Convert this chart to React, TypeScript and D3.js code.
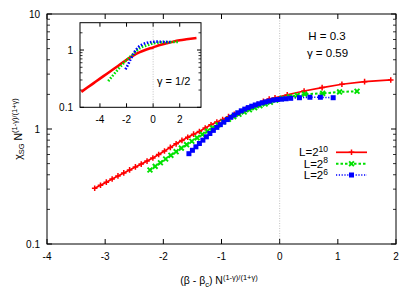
import * as d3 from "d3";

// main panel, L = 2^10
const redX = [-3.18, -3.08, -2.98, -2.88, -2.78, -2.68, -2.58, -2.48, -2.38, -2.28, -2.18, -2.08, -1.98, -1.88, -1.78, -1.68, -1.58, -1.48, -1.38, -1.28, -1.18, -1.08, -0.98, -0.88, -0.78, -0.68, -0.58, -0.48, -0.38, -0.28, -0.18, -0.08, 0.13, 0.42, 0.73, 1.07, 1.46, 1.91];
const redY = [0.305, 0.324, 0.345, 0.367, 0.391, 0.415, 0.441, 0.468, 0.495, 0.526, 0.56, 0.6, 0.644, 0.692, 0.743, 0.796, 0.847, 0.902, 0.951, 1.02, 1.09, 1.15, 1.21, 1.28, 1.34, 1.41, 1.48, 1.56, 1.64, 1.74, 1.82, 1.87, 1.98, 2.14, 2.29, 2.45, 2.58, 2.67];

// L = 2^8
const greenX = [-2.23, -2.14, -2.05, -1.96, -1.87, -1.78, -1.69, -1.6, -1.51, -1.42, -1.33, -1.24, -1.15, -1.06, -0.97, -0.88, -0.79, -0.7, -0.61, -0.52, -0.43, -0.34, -0.25, -0.16, -0.07, 0.04, 0.17, 0.3, 0.43, 0.74, 1.03, 1.33];
const greenY = [0.44, 0.473, 0.509, 0.548, 0.59, 0.635, 0.682, 0.731, 0.783, 0.838, 0.897, 0.959, 1.023, 1.086, 1.151, 1.216, 1.279, 1.343, 1.406, 1.469, 1.531, 1.592, 1.652, 1.71, 1.778, 1.845, 1.905, 1.963, 2.01, 2.04, 2.1, 2.13];

// L = 2^6
const blueX = [-1.56, -1.5, -1.44, -1.38, -1.32, -1.26, -1.2, -1.14, -1.08, -1.02, -0.96, -0.9, -0.84, -0.78, -0.72, -0.66, -0.6, -0.54, -0.48, -0.42, -0.36, -0.3, -0.24, -0.18, -0.11, -0.04, 0.03, 0.11, 0.19, 0.34, 0.52, 0.7, 0.92];
const blueY = [0.61, 0.653, 0.7, 0.748, 0.8, 0.855, 0.914, 0.973, 1.033, 1.091, 1.148, 1.208, 1.265, 1.324, 1.384, 1.439, 1.489, 1.535, 1.578, 1.618, 1.656, 1.69, 1.722, 1.75, 1.786, 1.803, 1.816, 1.832, 1.849, 1.871, 1.888, 1.888, 1.871];

// inset, gamma = 1/2
const insetRedX = [-5.4, -5.0, -4.5, -4.0, -3.5, -3.0, -2.5, -1.95, -1.5, -1.0, -0.5, 0, 0.5, 1.0, 1.5, 2.0, 2.5, 3.26];
const insetRedY = [0.186, 0.217, 0.262, 0.316, 0.382, 0.461, 0.557, 0.686, 0.8, 0.92, 1.02, 1.11, 1.22, 1.31, 1.4, 1.48, 1.54, 1.62];
const insetGreenX = [-3.38, -3.0, -2.5, -2.0, -1.5, -1.0, -0.5, 0, 0.5, 1.0, 1.5, 1.93];
const insetGreenY = [0.286, 0.366, 0.5, 0.667, 0.85, 1.08, 1.2, 1.31, 1.35, 1.37, 1.38, 1.39];
const insetBlueX = [-2.08, -1.9, -1.7, -1.4, -1.08, -0.8, -0.45, 0, 0.3, 0.8, 1.3];
const insetBlueY = [0.46, 0.55, 0.686, 0.92, 1.14, 1.25, 1.34, 1.39, 1.4, 1.39, 1.38];

const xTicks = [-4, -3, -2, -1, 0, 1, 2];
const yTicks = [0.1, 1, 10];
const insetXTicks = [-4, -2, 0, 2];
const insetYTicks = [0.1, 1];

const FONT = "'Liberation Sans', Arial, Helvetica, sans-serif";

const zip = (xs: number[], ys: number[]) => xs.map((x, i) => [x, ys[i]] as [number, number]);

function Frame({ x, y, xt, yt, major, minor, fs }: any) {
  const [x0, x1] = x.range();
  const [y0, y1] = y.range(); // y0 bottom, y1 top
  const [dLo, dHi] = y.domain();
  const minors: number[] = [];
  for (let d = dLo; d < dHi; d *= 10) {
    for (let k = 2; k <= 9; k++) if (d * k < dHi) minors.push(d * k);
  }
  return (
    <g>
      {xt.map((t: number) => (
        <g key={"x" + t}>
          <line x1={x(t)} x2={x(t)} y1={y0} y2={y0 - major} stroke="#000" />
          <line x1={x(t)} x2={x(t)} y1={y1} y2={y1 + major} stroke="#000" />
          <text x={x(t)} y={y0 + fs + 6} textAnchor="middle" fontSize={fs}>{t}</text>
        </g>
      ))}
      {yt.map((t: number) => (
        <g key={"y" + t}>
          <line x1={x0} x2={x0 + major} y1={y(t)} y2={y(t)} stroke="#000" />
          <line x1={x1} x2={x1 - major} y1={y(t)} y2={y(t)} stroke="#000" />
          <text x={x0 - 7} y={y(t) + fs * 0.36} textAnchor="end" fontSize={fs}>{t}</text>
        </g>
      ))}
      {minors.map((t) => (
        <g key={"m" + t}>
          <line x1={x0} x2={x0 + minor} y1={y(t)} y2={y(t)} stroke="#000" strokeWidth={0.8} />
          <line x1={x1} x2={x1 - minor} y1={y(t)} y2={y(t)} stroke="#000" strokeWidth={0.8} />
        </g>
      ))}
      <line x1={x(0)} x2={x(0)} y1={y0} y2={y1} stroke="#999" strokeWidth={0.6} strokeDasharray="1,1.5" />
      <rect x={x0} y={y1} width={x1 - x0} height={y0 - y1} fill="none" stroke="#000" strokeWidth={1} />
    </g>
  );
}

function marker(kind: string, cx: number, cy: number, color: string, key: any) {
  if (kind === "plus")
    return <path key={key} d={`M${cx - 2.8},${cy}h5.6M${cx},${cy - 2.8}v5.6`} stroke={color} strokeWidth={1.5} fill="none" />;
  if (kind === "cross")
    return <path key={key} d={`M${cx - 2.4},${cy - 2.4}l4.8,4.8M${cx - 2.4},${cy + 2.4}l4.8,-4.8`} stroke={color} strokeWidth={1.9} fill="none" />;
  return <rect key={key} x={cx - 2.5} y={cy - 2.5} width={5} height={5} fill={color} />;
}

const series = [
  { name: "10", xs: redX, ys: redY, ix: insetRedX, iy: insetRedY, color: "#ff0000", dash: "none", width: 1.7, mk: "plus" },
  { name: "8", xs: greenX, ys: greenY, ix: insetGreenX, iy: insetGreenY, color: "#00e000", dash: "2.5,2", width: 2, mk: "cross" },
  { name: "6", xs: blueX, ys: blueY, ix: insetBlueX, iy: insetBlueY, color: "#0000ff", dash: "1.2,1.6", width: 1.6, mk: "square" },
];

export default function App() {
  const x = d3.scaleLinear().domain([-4, 2]).range([47, 396]);
  const y = d3.scaleLog().domain([0.1, 10]).range([244, 14]);
  const ix = d3.scaleLinear().domain([-5.5, 3.6]).range([80, 201]);
  const iy = d3.scaleLog().domain([0.1, 3]).range([107.3, 22.7]);

  const line = d3.line<[number, number]>().x((d) => x(d[0])).y((d) => y(d[1]));
  const iline = d3.line<[number, number]>().x((d) => ix(d[0])).y((d) => iy(d[1])).curve(d3.curveMonotoneX);

  const legendY = [152.3, 163.7, 175];

  return (
    <div style={{ position: "absolute", left: 0, top: 0 }}>
      <svg width={415} height={291} style={{ display: "block", fontFamily: FONT }}>
        <rect width={415} height={291} fill="#fff" />
        <Frame x={x} y={y} xt={xTicks} yt={yTicks} major={5} minor={3} fs={10} />

        {series.map((s) => (
          <g key={"s" + s.name}>
            <path d={line(zip(s.xs, s.ys)) || ""} fill="none" stroke={s.color} strokeWidth={s.width} strokeDasharray={s.dash} />
            {s.xs.map((v, i) => marker(s.mk, x(v), y(s.ys[i]), s.color, i))}
          </g>
        ))}

        {/* inset */}
        <rect x={80} y={22.7} width={121} height={84.6} fill="#fff" />
        <Frame x={ix} y={iy} xt={insetXTicks} yt={insetYTicks} major={4} minor={2.5} fs={10} />
        {series.map((s) => (
          <path
            key={"i" + s.name}
            d={iline(zip(s.ix, s.iy)) || ""}
            fill="none"
            stroke={s.color}
            strokeWidth={2.6}
            strokeDasharray={s.name === "10" ? "none" : "1.6,1.6"}
          />
        ))}
        <text x={157} y={85} fontSize={11}>γ = 1/2</text>

        {/* annotations */}
        <text x={327} y={40} fontSize={11.5} textAnchor="middle">H = 0.3</text>
        <text x={327.5} y={57} fontSize={11.5} textAnchor="middle">γ = 0.59</text>

        {/* legend */}
        {series.map((s, i) => (
          <g key={"l" + s.name}>
            <text x={328} y={legendY[i] + 4} fontSize={11.5} textAnchor="end">
              L=2<tspan dy={-4.5} fontSize={8.5}>{s.name}</tspan>
            </text>
            <line x1={336} x2={367} y1={legendY[i]} y2={legendY[i]} stroke={s.color} strokeWidth={s.width} strokeDasharray={s.dash} />
            {marker(s.mk, 351.5, legendY[i], s.color, "m")}
          </g>
        ))}

        {/* axis titles */}
        <text x={219} y={284} fontSize={10.5} textAnchor="middle">
          (β - β<tspan dy={2.5} fontSize={7.5}>c</tspan><tspan dy={-2.5}>) N</tspan>
          <tspan dy={-4.5} fontSize={7.5}>(1-γ)/(1+γ)</tspan>
        </text>
        <text transform="translate(21.5,129) rotate(-90)" fontSize={10.5} textAnchor="middle">
          χ<tspan dy={2.5} fontSize={7.5}>SG</tspan><tspan dy={-2.5}> N</tspan>
          <tspan dy={-4.5} fontSize={7.5}>(1-γ)/(1+γ)</tspan>
        </text>
      </svg>
    </div>
  );
}
